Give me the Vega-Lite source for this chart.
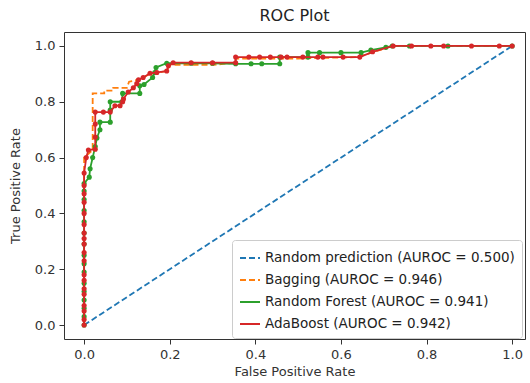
{
  "$schema": "https://vega.github.io/schema/vega-lite/v6.json",
  "width": 461,
  "height": 307,
  "autosize": {"type": "none"},
  "padding": {"left": 64, "top": 32, "right": 5, "bottom": 44},
  "title": {"text": "ROC Plot", "fontSize": 16, "fontWeight": "normal", "color": "#222", "offset": 8},
  "config": {
    "font": "DejaVu Sans",
    "view": {"stroke": "#333", "strokeWidth": 1},
    "axis": {"grid": false, "domain": false, "tickColor": "#333", "tickSize": 5, "labelFontSize": 13, "labelColor": "#333", "titleFontSize": 13, "titleFontWeight": "normal", "titleColor": "#333", "labelPadding": 4},
    "legend": {"title": null, "orient": "none", "legendX": 168, "legendY": 208, "symbolType": "stroke", "symbolSize": 400, "symbolStrokeWidth": 1.8, "labelFontSize": 13.5, "labelColor": "#222", "labelLimit": 0, "rowPadding": 4, "fillColor": "white", "strokeColor": "#ccc", "padding": 7, "cornerRadius": 3}
  },
  "datasets": {
    "roc": [
      {"model": "Random prediction (AUROC = 0.500)", "i": 0, "fpr": 0, "tpr": 0},
      {"model": "Random prediction (AUROC = 0.500)", "i": 1, "fpr": 1, "tpr": 1},

      {"model": "Bagging (AUROC = 0.946)", "i": 0, "fpr": 0, "tpr": 0},
      {"model": "Bagging (AUROC = 0.946)", "i": 1, "fpr": 0, "tpr": 0.6},
      {"model": "Bagging (AUROC = 0.946)", "i": 2, "fpr": 0.02, "tpr": 0.627},
      {"model": "Bagging (AUROC = 0.946)", "i": 3, "fpr": 0.02, "tpr": 0.83},
      {"model": "Bagging (AUROC = 0.946)", "i": 4, "fpr": 0.047, "tpr": 0.83},
      {"model": "Bagging (AUROC = 0.946)", "i": 5, "fpr": 0.047, "tpr": 0.84},
      {"model": "Bagging (AUROC = 0.946)", "i": 6, "fpr": 0.068, "tpr": 0.84},
      {"model": "Bagging (AUROC = 0.946)", "i": 7, "fpr": 0.068, "tpr": 0.85},
      {"model": "Bagging (AUROC = 0.946)", "i": 8, "fpr": 0.1, "tpr": 0.85},
      {"model": "Bagging (AUROC = 0.946)", "i": 9, "fpr": 0.105, "tpr": 0.872},
      {"model": "Bagging (AUROC = 0.946)", "i": 10, "fpr": 0.13, "tpr": 0.88},
      {"model": "Bagging (AUROC = 0.946)", "i": 11, "fpr": 0.154, "tpr": 0.9},
      {"model": "Bagging (AUROC = 0.946)", "i": 12, "fpr": 0.193, "tpr": 0.91},
      {"model": "Bagging (AUROC = 0.946)", "i": 13, "fpr": 0.2, "tpr": 0.932},
      {"model": "Bagging (AUROC = 0.946)", "i": 14, "fpr": 0.3, "tpr": 0.932},
      {"model": "Bagging (AUROC = 0.946)", "i": 15, "fpr": 0.354, "tpr": 0.94},
      {"model": "Bagging (AUROC = 0.946)", "i": 16, "fpr": 0.354, "tpr": 0.955},
      {"model": "Bagging (AUROC = 0.946)", "i": 17, "fpr": 0.5, "tpr": 0.955},
      {"model": "Bagging (AUROC = 0.946)", "i": 18, "fpr": 0.64, "tpr": 0.96},
      {"model": "Bagging (AUROC = 0.946)", "i": 19, "fpr": 0.66, "tpr": 0.97},
      {"model": "Bagging (AUROC = 0.946)", "i": 20, "fpr": 0.7, "tpr": 0.99},
      {"model": "Bagging (AUROC = 0.946)", "i": 21, "fpr": 0.72, "tpr": 1.0},
      {"model": "Bagging (AUROC = 0.946)", "i": 22, "fpr": 1.0, "tpr": 1.0},

      {"model": "Random Forest (AUROC = 0.941)", "i": 0, "fpr": 0, "tpr": 0},
      {"model": "Random Forest (AUROC = 0.941)", "i": 1, "fpr": 0, "tpr": 0.03},
      {"model": "Random Forest (AUROC = 0.941)", "i": 2, "fpr": 0, "tpr": 0.06},
      {"model": "Random Forest (AUROC = 0.941)", "i": 3, "fpr": 0, "tpr": 0.09},
      {"model": "Random Forest (AUROC = 0.941)", "i": 4, "fpr": 0, "tpr": 0.12},
      {"model": "Random Forest (AUROC = 0.941)", "i": 5, "fpr": 0, "tpr": 0.15},
      {"model": "Random Forest (AUROC = 0.941)", "i": 6, "fpr": 0, "tpr": 0.19},
      {"model": "Random Forest (AUROC = 0.941)", "i": 7, "fpr": 0, "tpr": 0.22},
      {"model": "Random Forest (AUROC = 0.941)", "i": 8, "fpr": 0, "tpr": 0.25},
      {"model": "Random Forest (AUROC = 0.941)", "i": 9, "fpr": 0, "tpr": 0.29},
      {"model": "Random Forest (AUROC = 0.941)", "i": 10, "fpr": 0, "tpr": 0.33},
      {"model": "Random Forest (AUROC = 0.941)", "i": 11, "fpr": 0, "tpr": 0.37},
      {"model": "Random Forest (AUROC = 0.941)", "i": 12, "fpr": 0, "tpr": 0.41},
      {"model": "Random Forest (AUROC = 0.941)", "i": 13, "fpr": 0, "tpr": 0.45},
      {"model": "Random Forest (AUROC = 0.941)", "i": 14, "fpr": 0, "tpr": 0.48},
      {"model": "Random Forest (AUROC = 0.941)", "i": 15, "fpr": 0, "tpr": 0.507},
      {"model": "Random Forest (AUROC = 0.941)", "i": 16, "fpr": 0.012, "tpr": 0.53},
      {"model": "Random Forest (AUROC = 0.941)", "i": 17, "fpr": 0.014, "tpr": 0.56},
      {"model": "Random Forest (AUROC = 0.941)", "i": 18, "fpr": 0.02, "tpr": 0.6},
      {"model": "Random Forest (AUROC = 0.941)", "i": 19, "fpr": 0.026, "tpr": 0.64},
      {"model": "Random Forest (AUROC = 0.941)", "i": 20, "fpr": 0.03, "tpr": 0.67},
      {"model": "Random Forest (AUROC = 0.941)", "i": 21, "fpr": 0.037, "tpr": 0.7},
      {"model": "Random Forest (AUROC = 0.941)", "i": 22, "fpr": 0.037, "tpr": 0.727},
      {"model": "Random Forest (AUROC = 0.941)", "i": 23, "fpr": 0.061, "tpr": 0.727},
      {"model": "Random Forest (AUROC = 0.941)", "i": 24, "fpr": 0.061, "tpr": 0.77},
      {"model": "Random Forest (AUROC = 0.941)", "i": 25, "fpr": 0.061, "tpr": 0.8},
      {"model": "Random Forest (AUROC = 0.941)", "i": 26, "fpr": 0.088, "tpr": 0.8},
      {"model": "Random Forest (AUROC = 0.941)", "i": 27, "fpr": 0.09, "tpr": 0.83},
      {"model": "Random Forest (AUROC = 0.941)", "i": 28, "fpr": 0.13, "tpr": 0.83},
      {"model": "Random Forest (AUROC = 0.941)", "i": 29, "fpr": 0.13, "tpr": 0.857},
      {"model": "Random Forest (AUROC = 0.941)", "i": 30, "fpr": 0.14, "tpr": 0.862},
      {"model": "Random Forest (AUROC = 0.941)", "i": 31, "fpr": 0.16, "tpr": 0.887},
      {"model": "Random Forest (AUROC = 0.941)", "i": 32, "fpr": 0.165, "tpr": 0.905},
      {"model": "Random Forest (AUROC = 0.941)", "i": 33, "fpr": 0.168, "tpr": 0.923},
      {"model": "Random Forest (AUROC = 0.941)", "i": 34, "fpr": 0.193, "tpr": 0.938},
      {"model": "Random Forest (AUROC = 0.941)", "i": 35, "fpr": 0.25, "tpr": 0.938},
      {"model": "Random Forest (AUROC = 0.941)", "i": 36, "fpr": 0.3, "tpr": 0.938},
      {"model": "Random Forest (AUROC = 0.941)", "i": 37, "fpr": 0.354, "tpr": 0.936},
      {"model": "Random Forest (AUROC = 0.941)", "i": 38, "fpr": 0.39, "tpr": 0.936},
      {"model": "Random Forest (AUROC = 0.941)", "i": 39, "fpr": 0.415, "tpr": 0.936},
      {"model": "Random Forest (AUROC = 0.941)", "i": 40, "fpr": 0.457, "tpr": 0.936},
      {"model": "Random Forest (AUROC = 0.941)", "i": 41, "fpr": 0.457, "tpr": 0.96},
      {"model": "Random Forest (AUROC = 0.941)", "i": 42, "fpr": 0.523, "tpr": 0.96},
      {"model": "Random Forest (AUROC = 0.941)", "i": 43, "fpr": 0.523, "tpr": 0.976},
      {"model": "Random Forest (AUROC = 0.941)", "i": 44, "fpr": 0.55, "tpr": 0.976},
      {"model": "Random Forest (AUROC = 0.941)", "i": 45, "fpr": 0.6, "tpr": 0.976},
      {"model": "Random Forest (AUROC = 0.941)", "i": 46, "fpr": 0.647, "tpr": 0.976},
      {"model": "Random Forest (AUROC = 0.941)", "i": 47, "fpr": 0.67, "tpr": 0.985},
      {"model": "Random Forest (AUROC = 0.941)", "i": 48, "fpr": 0.705, "tpr": 0.995},
      {"model": "Random Forest (AUROC = 0.941)", "i": 49, "fpr": 0.72, "tpr": 1.0},
      {"model": "Random Forest (AUROC = 0.941)", "i": 50, "fpr": 0.76, "tpr": 1.0},
      {"model": "Random Forest (AUROC = 0.941)", "i": 51, "fpr": 0.85, "tpr": 1.0},
      {"model": "Random Forest (AUROC = 0.941)", "i": 52, "fpr": 1.0, "tpr": 1.0},

      {"model": "AdaBoost (AUROC = 0.942)", "i": 0, "fpr": 0, "tpr": 0},
      {"model": "AdaBoost (AUROC = 0.942)", "i": 1, "fpr": 0, "tpr": 0.02},
      {"model": "AdaBoost (AUROC = 0.942)", "i": 2, "fpr": 0, "tpr": 0.05},
      {"model": "AdaBoost (AUROC = 0.942)", "i": 3, "fpr": 0, "tpr": 0.07},
      {"model": "AdaBoost (AUROC = 0.942)", "i": 4, "fpr": 0, "tpr": 0.11},
      {"model": "AdaBoost (AUROC = 0.942)", "i": 5, "fpr": 0, "tpr": 0.13},
      {"model": "AdaBoost (AUROC = 0.942)", "i": 6, "fpr": 0, "tpr": 0.16},
      {"model": "AdaBoost (AUROC = 0.942)", "i": 7, "fpr": 0, "tpr": 0.18},
      {"model": "AdaBoost (AUROC = 0.942)", "i": 8, "fpr": 0, "tpr": 0.23},
      {"model": "AdaBoost (AUROC = 0.942)", "i": 9, "fpr": 0, "tpr": 0.26},
      {"model": "AdaBoost (AUROC = 0.942)", "i": 10, "fpr": 0, "tpr": 0.29},
      {"model": "AdaBoost (AUROC = 0.942)", "i": 11, "fpr": 0, "tpr": 0.31},
      {"model": "AdaBoost (AUROC = 0.942)", "i": 12, "fpr": 0, "tpr": 0.33},
      {"model": "AdaBoost (AUROC = 0.942)", "i": 13, "fpr": 0, "tpr": 0.36},
      {"model": "AdaBoost (AUROC = 0.942)", "i": 14, "fpr": 0, "tpr": 0.4},
      {"model": "AdaBoost (AUROC = 0.942)", "i": 15, "fpr": 0, "tpr": 0.44},
      {"model": "AdaBoost (AUROC = 0.942)", "i": 16, "fpr": 0, "tpr": 0.47},
      {"model": "AdaBoost (AUROC = 0.942)", "i": 17, "fpr": 0, "tpr": 0.5},
      {"model": "AdaBoost (AUROC = 0.942)", "i": 18, "fpr": 0, "tpr": 0.545},
      {"model": "AdaBoost (AUROC = 0.942)", "i": 19, "fpr": 0.005, "tpr": 0.6},
      {"model": "AdaBoost (AUROC = 0.942)", "i": 20, "fpr": 0.01, "tpr": 0.627},
      {"model": "AdaBoost (AUROC = 0.942)", "i": 21, "fpr": 0.026, "tpr": 0.63},
      {"model": "AdaBoost (AUROC = 0.942)", "i": 22, "fpr": 0.026, "tpr": 0.674},
      {"model": "AdaBoost (AUROC = 0.942)", "i": 23, "fpr": 0.026, "tpr": 0.72},
      {"model": "AdaBoost (AUROC = 0.942)", "i": 24, "fpr": 0.026, "tpr": 0.763},
      {"model": "AdaBoost (AUROC = 0.942)", "i": 25, "fpr": 0.045, "tpr": 0.763},
      {"model": "AdaBoost (AUROC = 0.942)", "i": 26, "fpr": 0.061, "tpr": 0.763},
      {"model": "AdaBoost (AUROC = 0.942)", "i": 27, "fpr": 0.072, "tpr": 0.786},
      {"model": "AdaBoost (AUROC = 0.942)", "i": 28, "fpr": 0.084, "tpr": 0.786},
      {"model": "AdaBoost (AUROC = 0.942)", "i": 29, "fpr": 0.09, "tpr": 0.8},
      {"model": "AdaBoost (AUROC = 0.942)", "i": 30, "fpr": 0.092, "tpr": 0.81},
      {"model": "AdaBoost (AUROC = 0.942)", "i": 31, "fpr": 0.103, "tpr": 0.835},
      {"model": "AdaBoost (AUROC = 0.942)", "i": 32, "fpr": 0.115, "tpr": 0.85},
      {"model": "AdaBoost (AUROC = 0.942)", "i": 33, "fpr": 0.123, "tpr": 0.865},
      {"model": "AdaBoost (AUROC = 0.942)", "i": 34, "fpr": 0.127, "tpr": 0.879},
      {"model": "AdaBoost (AUROC = 0.942)", "i": 35, "fpr": 0.138, "tpr": 0.887},
      {"model": "AdaBoost (AUROC = 0.942)", "i": 36, "fpr": 0.154, "tpr": 0.902},
      {"model": "AdaBoost (AUROC = 0.942)", "i": 37, "fpr": 0.17, "tpr": 0.905},
      {"model": "AdaBoost (AUROC = 0.942)", "i": 38, "fpr": 0.193, "tpr": 0.91},
      {"model": "AdaBoost (AUROC = 0.942)", "i": 39, "fpr": 0.197, "tpr": 0.929},
      {"model": "AdaBoost (AUROC = 0.942)", "i": 40, "fpr": 0.208, "tpr": 0.94},
      {"model": "AdaBoost (AUROC = 0.942)", "i": 41, "fpr": 0.25, "tpr": 0.94},
      {"model": "AdaBoost (AUROC = 0.942)", "i": 42, "fpr": 0.3, "tpr": 0.94},
      {"model": "AdaBoost (AUROC = 0.942)", "i": 43, "fpr": 0.354, "tpr": 0.94},
      {"model": "AdaBoost (AUROC = 0.942)", "i": 44, "fpr": 0.354, "tpr": 0.96},
      {"model": "AdaBoost (AUROC = 0.942)", "i": 45, "fpr": 0.385, "tpr": 0.96},
      {"model": "AdaBoost (AUROC = 0.942)", "i": 46, "fpr": 0.41, "tpr": 0.96},
      {"model": "AdaBoost (AUROC = 0.942)", "i": 47, "fpr": 0.435, "tpr": 0.96},
      {"model": "AdaBoost (AUROC = 0.942)", "i": 48, "fpr": 0.46, "tpr": 0.96},
      {"model": "AdaBoost (AUROC = 0.942)", "i": 49, "fpr": 0.474, "tpr": 0.96},
      {"model": "AdaBoost (AUROC = 0.942)", "i": 50, "fpr": 0.511, "tpr": 0.96},
      {"model": "AdaBoost (AUROC = 0.942)", "i": 51, "fpr": 0.546, "tpr": 0.96},
      {"model": "AdaBoost (AUROC = 0.942)", "i": 52, "fpr": 0.558, "tpr": 0.96},
      {"model": "AdaBoost (AUROC = 0.942)", "i": 53, "fpr": 0.605, "tpr": 0.96},
      {"model": "AdaBoost (AUROC = 0.942)", "i": 54, "fpr": 0.644, "tpr": 0.96},
      {"model": "AdaBoost (AUROC = 0.942)", "i": 55, "fpr": 0.674, "tpr": 0.979},
      {"model": "AdaBoost (AUROC = 0.942)", "i": 56, "fpr": 0.722, "tpr": 1.0},
      {"model": "AdaBoost (AUROC = 0.942)", "i": 57, "fpr": 0.765, "tpr": 1.0},
      {"model": "AdaBoost (AUROC = 0.942)", "i": 58, "fpr": 0.81, "tpr": 1.0},
      {"model": "AdaBoost (AUROC = 0.942)", "i": 59, "fpr": 0.84, "tpr": 1.0},
      {"model": "AdaBoost (AUROC = 0.942)", "i": 60, "fpr": 0.905, "tpr": 1.0},
      {"model": "AdaBoost (AUROC = 0.942)", "i": 61, "fpr": 0.97, "tpr": 1.0},
      {"model": "AdaBoost (AUROC = 0.942)", "i": 62, "fpr": 1.0, "tpr": 1.0}
    ]
  },
  "data": {"name": "roc"},
  "encoding": {
    "x": {"field": "fpr", "type": "quantitative", "title": "False Positive Rate",
          "scale": {"domain": [-0.047, 1.03], "nice": false, "zero": false},
          "axis": {"values": [0, 0.2, 0.4, 0.6, 0.8, 1.0], "format": ".1f", "titlePadding": 4}},
    "y": {"field": "tpr", "type": "quantitative", "title": "True Positive Rate",
          "scale": {"domain": [-0.05, 1.05], "nice": false, "zero": false},
          "axis": {"values": [0, 0.2, 0.4, 0.6, 0.8, 1.0], "format": ".1f", "titlePadding": 12}},
    "color": {"field": "model", "type": "nominal",
              "scale": {"domain": ["Random prediction (AUROC = 0.500)", "Bagging (AUROC = 0.946)", "Random Forest (AUROC = 0.941)", "AdaBoost (AUROC = 0.942)"],
                        "range": ["#1f77b4", "#ff7f0e", "#2ca02c", "#d62728"]},
              "legend": {"title": null}},
    "order": {"field": "i", "type": "quantitative"}
  },
  "layer": [
    {"mark": {"type": "line", "strokeWidth": 1.8},
     "transform": [{"filter": "datum.model === 'Random prediction (AUROC = 0.500)' || datum.model === 'Bagging (AUROC = 0.946)'"}],
     "encoding": {"strokeDash": {"field": "model", "type": "nominal",
        "scale": {"domain": ["Random prediction (AUROC = 0.500)", "Bagging (AUROC = 0.946)", "Random Forest (AUROC = 0.941)", "AdaBoost (AUROC = 0.942)"], "range": [[6, 3], [6, 3], [1, 0], [1, 0]]},
        "legend": {"title": null}}}},
    {"transform": [{"filter": "datum.model === 'Random Forest (AUROC = 0.941)'"}],
     "mark": {"type": "line", "strokeWidth": 1.8}},
    {"transform": [{"filter": "datum.model === 'Random Forest (AUROC = 0.941)'"}],
     "mark": {"type": "point", "filled": true, "size": 26, "opacity": 1}},
    {"transform": [{"filter": "datum.model === 'AdaBoost (AUROC = 0.942)'"}],
     "mark": {"type": "line", "strokeWidth": 1.8}},
    {"transform": [{"filter": "datum.model === 'AdaBoost (AUROC = 0.942)'"}],
     "mark": {"type": "point", "filled": true, "size": 26, "opacity": 1}}
  ]
}
